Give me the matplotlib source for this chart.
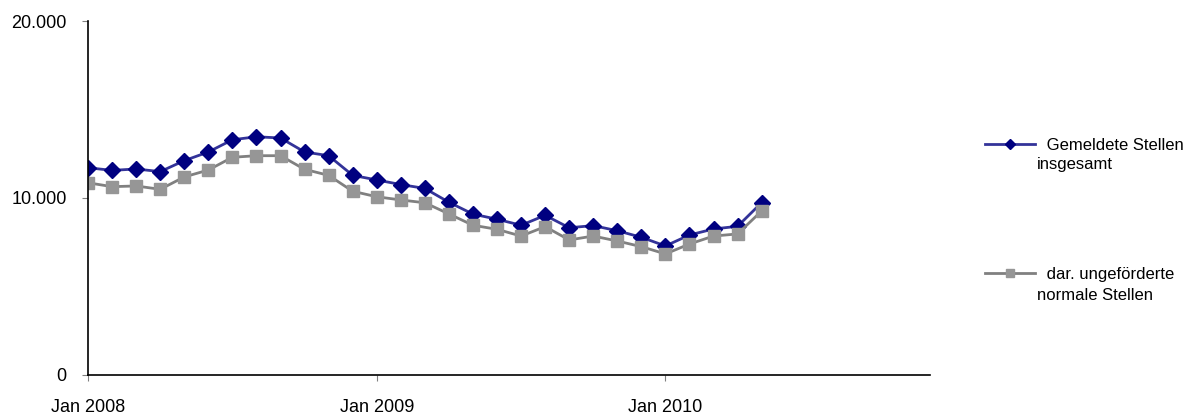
import matplotlib
matplotlib.use("Agg")
import matplotlib.pyplot as plt
from matplotlib.ticker import FuncFormatter

plt.rcParams['font.family'] = ['Liberation Sans', 'DejaVu Sans']

# Monthly values, Jan 2008 .. May 2010
months = list(range(29))
gemeldet = [11710, 11560, 11640, 11490, 12110, 12600, 13290, 13460, 13390, 12600, 12390, 11280,
            11020, 10760, 10540, 9760, 9090, 8800, 8460, 9020, 8320, 8440, 8150, 7780,
            7290, 7910, 8250, 8400, 9740]
ungefoerdert = [10860, 10640, 10680, 10490, 11190, 11580, 12300, 12390, 12390, 11620, 11280, 10380,
                10070, 9890, 9730, 9100, 8460, 8230, 7850, 8380, 7630, 7850, 7570, 7250,
                6840, 7400, 7850, 7970, 9270]
tick_pos = [0, 12, 24]
tick_labels = ["Jan 2008", "Jan 2009", "Jan 2010"]
label1 = ["Gemeldete Stellen", "insgesamt"]
label2 = ["dar. ungeförderte", "normale Stellen"]

fig = plt.figure(figsize=(11.93, 4.16), dpi=100)
ax = fig.add_axes([0.0738, 0.0986, 0.7058, 0.8509])

l1, = ax.plot(months, gemeldet, color="#333399", linewidth=2, marker="D", markersize=8,
              markerfacecolor="#000080", markeredgecolor="#000080")
l2, = ax.plot(months, ungefoerdert, color="#808080", linewidth=2, marker="s", markersize=8,
              markerfacecolor="#969696", markeredgecolor="#969696")

ax.set_xlim(0, 35)
ax.set_ylim(0, 20000)
ax.set_yticks([0, 10000, 20000])
ax.yaxis.set_major_formatter(FuncFormatter(lambda v, p: "{:,.0f}".format(v).replace(",", ".")))
ax.set_xticks(tick_pos)
ax.set_xticklabels(tick_labels)
ax.tick_params(axis='y', labelsize=13, length=4, color="#808080", pad=11.5)
ax.tick_params(axis='x', labelsize=13, length=4, color="#808080", pad=13)

for s in ["top", "right"]:
    ax.spines[s].set_visible(False)
ax.spines["left"].set_linewidth(1.2)
ax.spines["bottom"].set_linewidth(1.2)

# legend: handle aligned with first line, second line wrapped below
for h, lab, yh, y2 in [(l1, label1, 145, 165), (l2, label2, 274, 296)]:
    fig.legend([h], [" " + lab[0]], loc="center left", bbox_to_anchor=(985 / 1193, 1 - yh / 416),
               frameon=False, fontsize=12, handlelength=3.0, handletextpad=0.4,
               borderpad=0, borderaxespad=0, markerscale=0.7)
    fig.text(1037 / 1193, 1 - y2 / 416, lab[1], fontsize=12, va="center", ha="left")

fig.savefig("out.png", dpi=100)
